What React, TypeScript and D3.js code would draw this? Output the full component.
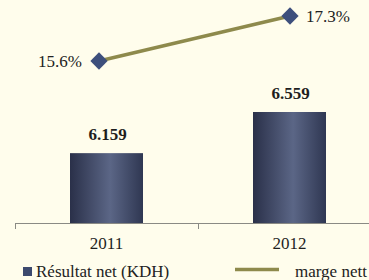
import React from "react";
import * as d3 from "d3";

const categories = ["2011", "2012"];
const resultatNet = [6.159, 6.559];
const resultatLabels = ["6.159", "6.559"];
const margeNette = [15.6, 17.3];
const margeLabels = ["15.6%", "17.3%"];
const legendLabels = ["Résultat net  (KDH)", "marge nett"];

const W = 369;
const H = 280;

export default function App() {
  const x = d3.scaleBand<string>().domain(categories).range([15, 381]).paddingInner(0).paddingOuter(0);
  const barW = 73;
  const yBar = d3.scaleLinear().domain([5.48, 6.559]).range([223, 112]);
  const xLine = d3.scalePoint<string>().domain(categories).range([99, 290]);
  const yLine = d3.scaleLinear().domain([15.6, 17.3]).range([61, 16]);
  const lineGen = d3
    .line<number>()
    .x((_, i) => xLine(categories[i]) as number)
    .y((d) => yLine(d));
  const ts: React.CSSProperties = { fontFamily: "Liberation Serif, DejaVu Serif, serif" };
  const diamond = d3.symbol().type(d3.symbolDiamond2).size(190)();

  return (
    <svg
      width={W}
      height={H}
      style={{ position: "absolute", left: 0, top: 0, display: "block" }}
    >
      <defs>
        <linearGradient id="barGrad" x1="0" x2="1" y1="0" y2="0">
          <stop offset="0%" stopColor="#2a3049" />
          <stop offset="55%" stopColor="#5b6686" />
          <stop offset="100%" stopColor="#2f3752" />
        </linearGradient>
      </defs>
      <rect x={0} y={0} width={W} height={H} fill="#fffdec" />
      {categories.map((c, i) => {
        const cx = (x(c) as number) + x.bandwidth() / 2;
        const top = yBar(resultatNet[i]);
        return (
          <g key={c}>
            <rect x={cx - barW / 2} y={top} width={barW} height={yBar(5.48) - top} fill="url(#barGrad)" />
            <text x={cx + 1} y={top - 13} textAnchor="middle" fontSize={17} fontWeight="bold" fill="#1e1e1e" style={ts}>
              {resultatLabels[i]}
            </text>
            <text x={cx} y={249} textAnchor="middle" fontSize={17} fill="#1e1e1e" style={ts}>
              {c}
            </text>
          </g>
        );
      })}
      <line x1={15} x2={W} y1={223.5} y2={223.5} stroke="#8a8a84" strokeWidth={1} />
      {categories.map((c) => (
        <line key={c} x1={(x(c) as number) + 0.5} x2={(x(c) as number) + 0.5} y1={223} y2={229} stroke="#8a8a84" strokeWidth={1} />
      ))}
      <path d={lineGen(margeNette) as string} fill="none" stroke="#8e8a4c" strokeWidth={3.5} />
      {margeNette.map((v, i) => {
        const px = xLine(categories[i]) as number;
        const py = yLine(v);
        return (
          <g key={i}>
            <path d={diamond as string} transform={`translate(${px},${py})`} fill="#3d4f7c" />
            <text
              x={i === 0 ? px - 17 : px + 16}
              y={py + 6}
              textAnchor={i === 0 ? "end" : "start"}
              fontSize={17}
              fill="#222"
              style={ts}
            >
              {margeLabels[i]}
            </text>
          </g>
        );
      })}
      <rect x={23} y={267} width={9} height={9} fill="#3d4a6e" />
      <text x={36} y={277} fontSize={17} fill="#222" style={ts}>
        {legendLabels[0]}
      </text>
      <line x1={235} x2={279} y1={269.5} y2={269.5} stroke="#8e8a4c" strokeWidth={3.5} />
      <text x={295} y={277} fontSize={17} fill="#222" style={ts}>
        {legendLabels[1]}
      </text>
    </svg>
  );
}
